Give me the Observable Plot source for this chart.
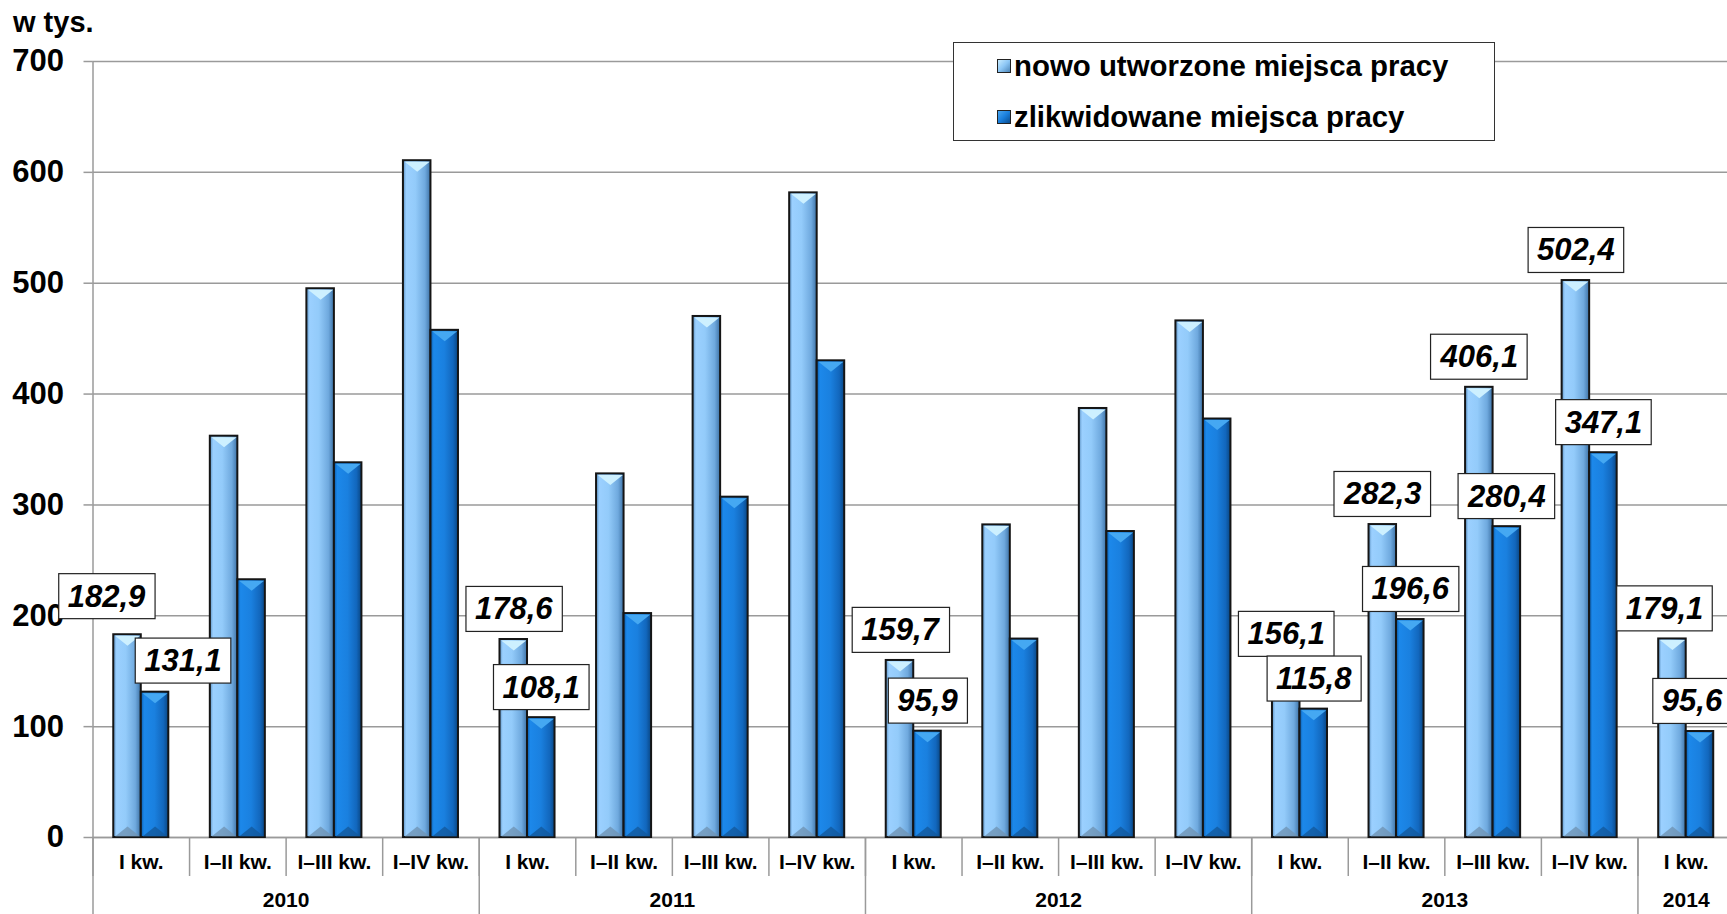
<!DOCTYPE html>
<html>
<head>
<meta charset="utf-8">
<script src="https://cdn.jsdelivr.net/npm/d3@7"></script>
<script src="https://cdn.jsdelivr.net/npm/@observablehq/plot@0.6"></script>
<style>
html,body{margin:0;padding:0;background:#fff;overflow:hidden;}
#wrap{position:relative;width:1727px;height:914px;overflow:hidden;font-family:"Liberation Sans",Arial,sans-serif;background:#fff;}
#wrap svg{position:absolute;left:0;top:0;}
#unit{position:absolute;left:13px;top:6px;font-weight:bold;font-size:29px;line-height:32px;color:#000;}
#legend{position:absolute;left:953px;top:42px;width:542px;height:99px;border:1px solid #333;background:#fff;box-sizing:border-box;}
.row{position:absolute;left:43px;height:34px;display:flex;align-items:center;font-weight:bold;font-size:29.4px;white-space:nowrap;color:#000;}
.sw{width:14px;height:14px;border:1px solid #222;margin-right:3px;box-sizing:border-box;}
.sw1{background:linear-gradient(135deg,#c8ecff,#8cc6f5 50%,#4d86b8);}
.sw2{background:linear-gradient(135deg,#4aa6f0,#1a7fdd 50%,#0a4c8e);}
</style>
</head>
<body>
<div id="wrap">
  <div id="unit">w tys.</div>
</div>
<script>
// ---- data ----
const years = ["2010","2010","2010","2010","2011","2011","2011","2011","2012","2012","2012","2012","2013","2013","2013","2013","2014"];
const quarters = ["I kw.","I–II kw.","I–III kw.","I–IV kw.","I kw.","I–II kw.","I–III kw.","I–IV kw.","I kw.","I–II kw.","I–III kw.","I–IV kw.","I kw.","I–II kw.","I–III kw.","I–IV kw.","I kw."];
const nowo = [182.9, 362, 495, 610.5, 178.6, 328, 470, 581.5, 159.7, 282, 387, 466, 156.1, 282.3, 406.1, 502.4, 179.1];
const zlikwidowane = [131.1, 232.5, 338, 457.5, 108.1, 202, 307, 430, 95.9, 179, 276, 377.5, 115.8, 196.6, 280.4, 347.1, 95.6];
const seriesNames = ["nowo utworzone miejsca pracy", "zlikwidowane miejsca pracy"];
const yTicks = [0, 100, 200, 300, 400, 500, 600, 700];

// ---- derived ----
const BW = 0.285; // bar width in band units (style)
const rows = [];
years.forEach((y, i) => {
  rows.push({i, year: y, quarter: quarters[i], series: 0, value: nowo[i], x1: i + 0.5 - BW, x2: i + 0.5});
  rows.push({i, year: y, quarter: quarters[i], series: 1, value: zlikwidowane[i], x1: i + 0.5, x2: i + 0.5 + BW});
});
rows.forEach(d => d.cx = (d.x1 + d.x2) / 2);
const yearList = Array.from(new Set(years));
const yearStart = yearList.map(y => years.indexOf(y));
const yearEnd = yearList.map(y => years.lastIndexOf(y) + 1);
const yearCenters = yearList.map((y, k) => (yearStart[k] + yearEnd[k]) / 2);
const yearBounds = Array.from(new Set([...yearStart, ...yearEnd]));
const catBounds = d3.range(0, years.length + 1);
const catCenters = d3.range(0, years.length).map(i => i + 0.5);
const fmt = v => v.toFixed(1).replace(".", ",");
const labeled = rows.filter(d => d.quarter === "I kw." || d.year === "2013");
const lastI = years.length - 1;

const FONT = '"Liberation Sans", Arial, sans-serif';
const triDown = {draw(ctx) { ctx.moveTo(-12.5, 1); ctx.lineTo(12.5, 1); ctx.lineTo(0, 11); ctx.closePath(); }};
const triUp = {draw(ctx) { ctx.moveTo(-12.5, -1); ctx.lineTo(12.5, -1); ctx.lineTo(0, -11); ctx.closePath(); }};
const GRID = "#9a9a9a";
const labelOpts = {x: "cx", y: "value", text: d => fmt(d.value), fontSize: 31, fontWeight: "bold", fontStyle: "italic", fill: "#000"};

const svg = Plot.plot({
  width: 1727,
  height: 914,
  marginLeft: 92.5,
  marginRight: 0,
  marginTop: 61,
  marginBottom: 77,
  style: {fontFamily: FONT, background: "transparent", overflow: "hidden"},
  x: {type: "linear", domain: [0, years.length], range: [92.5, 1734]},
  y: {domain: [0, 700], range: [837, 61]},
  marks: [
    Plot.gridY(yTicks, {stroke: GRID, strokeOpacity: 1, strokeWidth: 1.5}),
    Plot.ruleX([0], {stroke: GRID, strokeWidth: 1.5}),
    Plot.ruleY([0], {stroke: GRID, strokeWidth: 1.5}),
    Plot.axisY({ticks: yTicks, tickSize: 9, tickPadding: 20, tickFormat: d => String(d), fontSize: 31, fontWeight: "bold", stroke: GRID, strokeWidth: 1.5, fill: "#000", label: null}),
    Plot.axisX({ticks: catBounds, tickSize: 39, tickFormat: () => "", stroke: GRID, strokeWidth: 1.5, label: null}),
    Plot.axisX({ticks: yearBounds, tickSize: 77, tickFormat: () => "", stroke: GRID, strokeWidth: 1.5, label: null}),
    Plot.axisX({ticks: catCenters, tickSize: 0, tickPadding: 17, tickFormat: t => quarters[Math.floor(t)], fontSize: 21, fontWeight: "bold", fill: "#000", label: null}),
    Plot.axisX({ticks: yearCenters, tickSize: 0, tickPadding: 55, tickFormat: t => yearList[yearCenters.indexOf(t)], fontSize: 21, fontWeight: "bold", fill: "#000", label: null}),
    Plot.rect(rows, {x1: "x1", x2: "x2", y1: 0, y2: "value", fill: d => d.series === 0 ? "url(#gLight)" : "url(#gDark)", stroke: "#151515", strokeWidth: 2}),
    Plot.dot(rows, {x: "cx", y: 0, symbol: triUp, r: 5, fill: d => d.series === 0 ? "#6f93b4" : "#13599c", fillOpacity: 0.8}),
    Plot.dot(rows, {x: "cx", y: "value", symbol: triDown, r: 5, fill: d => d.series === 0 ? "#cdf0ff" : "#45a8f2"}),
    Plot.text(labeled.filter(d => d.i !== 0 && d.i !== lastI), {...labelOpts, dx: 0, dy: -30}),
    Plot.text(labeled.filter(d => d.i === lastI), {...labelOpts, dx: -8, dy: -30}),
    Plot.text(labeled.filter(d => d.i === 0 && d.series === 0), {...labelOpts, dx: -21, dy: -38}),
    Plot.text(labeled.filter(d => d.i === 0 && d.series === 1), {...labelOpts, dx: 28, dy: -31})
  ]
});

const wrap = document.getElementById("wrap");
wrap.insertBefore(svg, wrap.firstChild);

// gradients
const NS = "http://www.w3.org/2000/svg";
const defs = document.createElementNS(NS, "defs");
function grad(id, stops) {
  const g = document.createElementNS(NS, "linearGradient");
  g.setAttribute("id", id);
  g.setAttribute("x1", "0"); g.setAttribute("x2", "1"); g.setAttribute("y1", "0"); g.setAttribute("y2", "0");
  stops.forEach(([o, c]) => {
    const s = document.createElementNS(NS, "stop");
    s.setAttribute("offset", o); s.setAttribute("stop-color", c);
    g.appendChild(s);
  });
  defs.appendChild(g);
}
grad("gLight", [["0", "#5a8fc0"], ["0.12", "#9bd0ff"], ["0.45", "#93cbfa"], ["0.8", "#6fa9de"], ["1", "#3d72a6"]]);
grad("gDark", [["0", "#0b5aa8"], ["0.12", "#1c88ea"], ["0.5", "#1a80df"], ["0.82", "#1267bd"], ["1", "#094683"]]);
svg.insertBefore(defs, svg.firstChild);

// white boxes behind value labels (texts of the form "123,4")
Array.from(svg.querySelectorAll("text")).filter(t => /^\d+,\d$/.test(t.textContent.trim())).forEach(t => {
  const b = t.getBBox();
  const r = document.createElementNS(NS, "rect");
  r.setAttribute("x", b.x - 9);
  r.setAttribute("y", b.y + b.height / 2 - 22.5);
  r.setAttribute("width", b.width + 18);
  r.setAttribute("height", 45);
  r.setAttribute("fill", "#fff");
  r.setAttribute("stroke", "#222");
  r.setAttribute("stroke-width", "1.2");
  const tr = t.getAttribute("transform");
  if (tr) r.setAttribute("transform", tr);
  t.parentNode.insertBefore(r, t);
});

// legend
const legend = document.createElement("div");
legend.id = "legend";
legend.innerHTML = `<div class="row" style="top:6px"><div class="sw sw1"></div>${seriesNames[0]}</div>` +
                   `<div class="row" style="top:57px"><div class="sw sw2"></div>${seriesNames[1]}</div>`;
wrap.appendChild(legend);
</script>
</body>
</html>
